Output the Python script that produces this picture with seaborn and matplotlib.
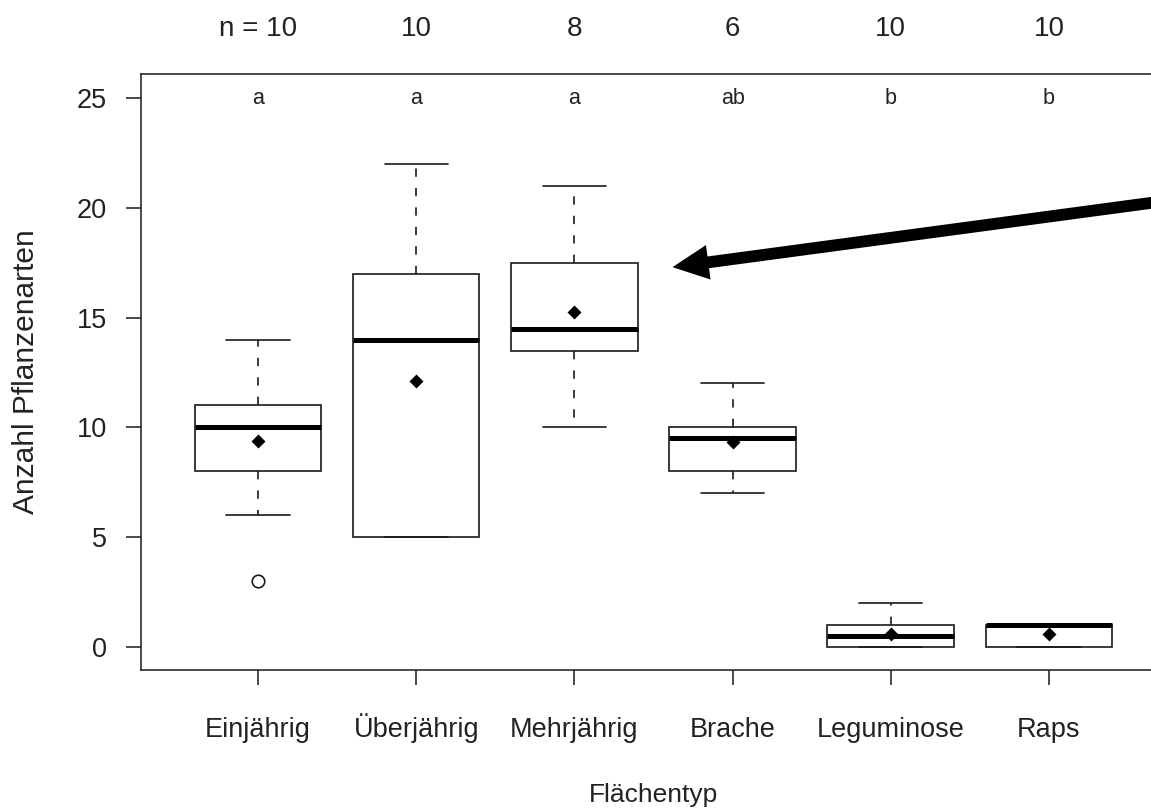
import numpy as np
import pandas as pd
import seaborn as sns
import matplotlib.pyplot as plt

categories = ["Einjährig", "Überjährig", "Mehrjährig", "Brache", "Leguminose", "Raps"]
einjaehrig = [3, 6, 8, 8, 10, 10, 11, 11, 13, 14]
ueberjaehrig = [5, 5, 5, 5, 14, 14, 17, 17, 17, 22]
mehrjaehrig = [10, 12, 14, 14, 15, 17, 19, 21]
brache = [7, 7.67, 9, 10, 10, 12]
leguminose = [0, 0, 0, 0, 0, 1, 1, 1, 1, 2]
raps = [0, 0, 0, 0, 1, 1, 1, 1, 1, 1]
means = [9.4, 12.1, 15.25, 9.33, 0.6, 0.6]
n_labels = ["n = 10", "10", "8", "6", "10", "10"]
letters = ["a", "a", "a", "ab", "b", "b"]

groups = [einjaehrig, ueberjaehrig, mehrjaehrig, brache, leguminose, raps]
df = pd.DataFrame({
    "Flächentyp": np.repeat(categories, [len(g) for g in groups]),
    "Anzahl": np.concatenate(groups),
})

sns.set_theme(style="ticks")
plt.rcParams["font.family"] = ["Liberation Sans", "DejaVu Sans"]
plt.rcParams["lines.scale_dashes"] = False
TEXT = "#222222"
LINE = "#1a1a1a"

fig = plt.figure(figsize=(11.51, 8.11), dpi=100)
ax = fig.add_axes([0.1225, 0.1739, 0.8905, 0.7349])

sns.boxplot(
    data=df, x="Flächentyp", y="Anzahl", order=categories,
    color="white", linecolor=LINE, linewidth=1.2, width=0.8,
    fliersize=9, ax=ax,
    whiskerprops=dict(linestyle=(0, (6, 8))),
    medianprops=dict(linewidth=3.6, color="black"),
    flierprops=dict(marker="o", markerfacecolor="white",
                    markeredgecolor=LINE, markeredgewidth=1.2),
)
sns.pointplot(
    x=categories, y=means, order=categories, ax=ax,
    color="black", markers="D", linestyles="none",
    markersize=5.6, errorbar=None,
)

ax.set_xlim(-0.74, 5.74)
ax.set_ylim(-1.05, 26.1)
ax.set_yticks(range(0, 26, 5))
ax.tick_params(axis="both", length=11, width=1.1, color=LINE,
               labelsize=19.5, labelcolor=TEXT)
ax.tick_params(axis="x", pad=37)
ax.tick_params(axis="y", pad=13.5)
for lab in ax.get_xticklabels():
    lab.set_va("baseline")
for s in ax.spines.values():
    s.set_linewidth(1.1)
    s.set_color(LINE)

ax.set_xlabel("Flächentyp", fontsize=19, color=TEXT, va="center")
ax.xaxis.set_label_coords(0.5, -0.2097)
ax.set_ylabel("Anzahl Pflanzenarten", fontsize=21.5, color=TEXT, va="center")
ax.yaxis.set_label_coords(-0.112, 0.5)

# group sizes above the plot and significance letters inside
for i, (n, letter) in enumerate(zip(n_labels, letters)):
    ax.text(i, 1.0755, n, transform=ax.get_xaxis_transform(),
            ha="center", va="center", fontsize=20, color=TEXT, clip_on=False)
    ax.text(i, 25, letter, ha="center", va="center", fontsize=15.5, color=TEXT)

# arrow pointing at the Mehrjährig box
ax.annotate(
    "", xy=(2.62, 17.3), xytext=(5.72, 20.3),
    arrowprops=dict(arrowstyle="simple,head_length=2.6,head_width=2.5,tail_width=0.85",
                    mutation_scale=10, lw=0, color="black",
                    shrinkA=0, shrinkB=0),
)

fig.savefig("out.png", dpi=100)
